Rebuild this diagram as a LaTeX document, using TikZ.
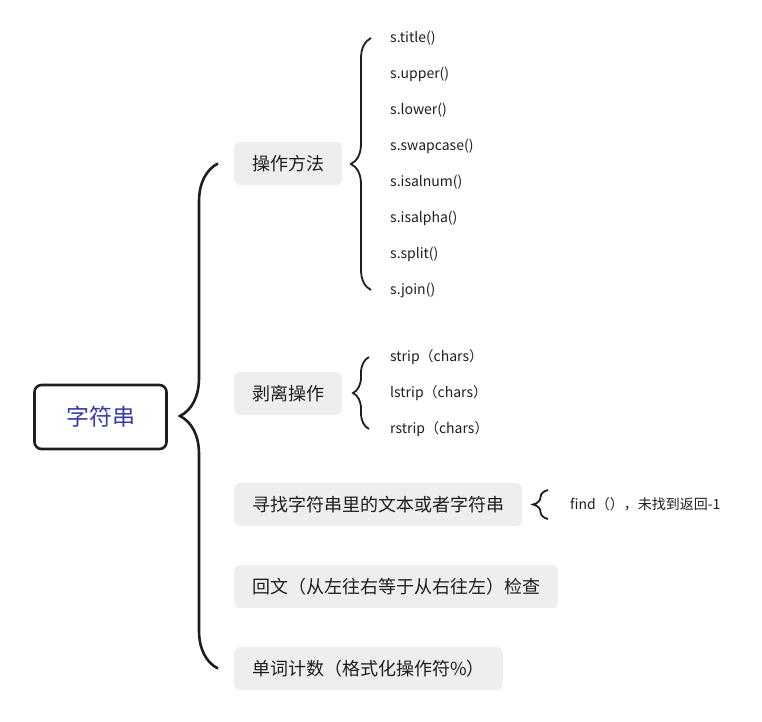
\documentclass[tikz,border=0pt]{standalone}
\usepackage{fontspec}
\setmainfont{Noto Sans CJK SC}
\usetikzlibrary{decorations.pathreplacing}
\definecolor{rootblue}{RGB}{58,58,170}
\definecolor{boxgray}{RGB}{238,238,238}
\definecolor{inkgray}{RGB}{30,30,30}

\begin{document}
\begin{tikzpicture}[x=1pt, y=-1pt,
    rootbox/.style={draw=inkgray, line width=2.6pt, rounded corners=7pt, minimum width=132pt,
      minimum height=64pt, text=rootblue, font=\fontsize{23}{23}\selectfont},
    topicbox/.style={fill=boxgray, rounded corners=6pt, anchor=west, minimum height=43pt,
      inner xsep=18pt, text=inkgray, font=\fontsize{18}{18}\selectfont},
    leaf/.style={anchor=west, inner sep=0pt, text=inkgray, font=\fontsize{14}{14}\selectfont},
    curly/.style={draw=inkgray, line width=#1, decorate},
    curly/.default=1.8pt]

    \useasboundingbox (0,0) rectangle (762,721);

    \node[rootbox] (root) at (100.5,417) {字符串};

    \node[topicbox] (op) at (234,163.5) {操作方法};
    \node[topicbox] (strip) at (234,393.5) {剥离操作};
    \node[topicbox] (find) at (234,504.5) {寻找字符串里的文本或者字符串};
    \node[topicbox] (pal) at (234,586.5) {回文（从左往右等于从右往左）检查};
    \node[topicbox] (wc) at (234,668.5) {单词计数（格式化操作符\%）};

    % methods of the string
    \foreach \name [count=\i] in {{s.title()}, {s.upper()}, {s.lower()}, {s.swapcase()},
        {s.isalnum()}, {s.isalpha()}, {s.split()}, {s.join()}}
        \node[leaf] (m\i) at (390, 2+36*\i) {\name};

    \foreach \name [count=\i] in {strip, lstrip, rstrip}
        \node[leaf] (s\i) at (390, 321+36*\i) {\name（chars）};

    \node[leaf] (fd) at (570,504.5) {find（），未找到返回-1};

    % braces
    \draw[curly=2.6pt, decoration={brace, amplitude=38pt}]
        ([xshift=-16pt]wc.west) -- ([xshift=-16pt]op.west);
    \draw[curly, decoration={brace, amplitude=20pt}]
        ([xshift=-19pt]m8.west) -- ([xshift=-19pt]m1.west);
    \draw[curly, decoration={brace, amplitude=16pt}]
        ([xshift=-21pt]s3.west) -- ([xshift=-21pt]s1.west);
    \draw[curly, decoration={brace, amplitude=15pt}]
        ([xshift=-22pt, yshift=-14.5pt]fd.west) -- ([xshift=-22pt, yshift=14.5pt]fd.west);

\end{tikzpicture}
\end{document}
